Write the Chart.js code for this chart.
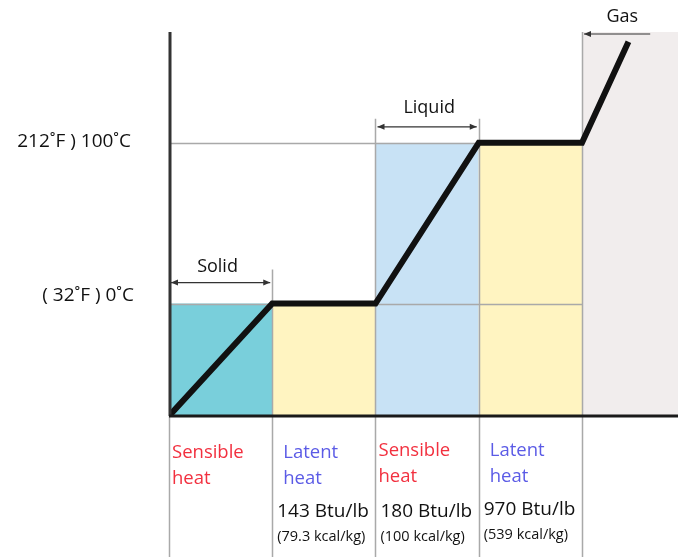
<!DOCTYPE html>
<html>
<head>
<meta charset="utf-8">
<script src="https://cdn.jsdelivr.net/npm/chart.js@4.4.1/dist/chart.umd.min.js"></script>
<style>
  html, body { margin: 0; padding: 0; background: #fff; }
  #wrap { width: 678px; height: 557px; }
</style>
</head>
<body>
<div id="wrap"><canvas id="heatChart"></canvas></div>
<script>
// heat added (one unit per phase column) and temperature in °C
const heatSteps = [0, 1, 2, 3, 4, 4.45];
const temperatures = [-70, 0, 0, 100, 100, 163];

// phase columns: start, end, top temperature, colour
const columnStarts = [0, 1, 2, 3, 4];
const columnEnds = [1, 2, 3, 4, 4.93];
const columnTops = [0, 0, 100, 100, 169];
const columnColors = ['#79cfdb', '#fff4c1', '#c8e2f5', '#fff4c1', '#f1eded'];

const tempMarks = [0, 100];
const tempLabels = ['( 32˚F ) 0˚C', '212˚F ) 100˚C'];

const heatTypes = [['Sensible', 'heat'], ['Latent', 'heat'], ['Sensible', 'heat'], ['Latent', 'heat']];
const heatTypeColors = ['#f2303f', '#5b5be6', '#f2303f', '#5b5be6'];
const heatAmounts = ['', '143 Btu/lb', '180 Btu/lb', '970 Btu/lb'];
const heatMetric = ['', '(79.3 kcal/kg)', '(100 kcal/kg)', '(539 kcal/kg)'];

const FONT = '"Open Sans", "Noto Sans", sans-serif';

function arrowHead(ctx, x, y, dir) {
    ctx.beginPath();
    ctx.moveTo(x, y);
    ctx.lineTo(x - dir * 7, y - 3);
    ctx.lineTo(x - dir * 7, y + 3);
    ctx.closePath();
    ctx.fill();
}

// fondos de fase, rejilla y flechas
const phasePlugin = {
    id: 'phases',
    beforeDatasetsDraw(chart) {
        const { ctx, chartArea, scales: { x, y } } = chart;
        const bottom = chartArea.bottom;
        ctx.save();
        columnStarts.forEach((s, i) => {
            const x0 = x.getPixelForValue(s);
            const x1 = x.getPixelForValue(columnEnds[i]);
            const yt = y.getPixelForValue(columnTops[i]);
            ctx.fillStyle = columnColors[i];
            ctx.fillRect(x0, yt, x1 - x0, bottom - yt);
        });

        // horizontal temperature lines
        ctx.strokeStyle = '#a9a9a9';
        ctx.lineWidth = 1.5;
        tempMarks.forEach(t => {
            const py = Math.round(y.getPixelForValue(t)) + 0.5;
            ctx.beginPath();
            ctx.moveTo(x.getPixelForValue(0), py);
            ctx.lineTo(x.getPixelForValue(4), py);
            ctx.stroke();
        });

        // vertical column boundaries, continuing below the axis
        const tickTops = [y.getPixelForValue(0) - 34, y.getPixelForValue(100) - 24, y.getPixelForValue(100) - 24, chartArea.top];
        [1, 2, 3, 4].forEach((v, i) => {
            const px = Math.round(x.getPixelForValue(v)) + 0.5;
            ctx.beginPath();
            ctx.moveTo(px, tickTops[i]);
            ctx.lineTo(px, chart.height);
            ctx.stroke();
        });
        ctx.beginPath();
        ctx.moveTo(x.getPixelForValue(0) + 0.5, bottom);
        ctx.lineTo(x.getPixelForValue(0) + 0.5, chart.height);
        ctx.stroke();

        // phase arrows
        ctx.strokeStyle = '#333';
        ctx.fillStyle = '#333';
        ctx.lineWidth = 1.2;
        const arrows = [
            [0, 1, y.getPixelForValue(0) - 21, true],
            [2, 3, y.getPixelForValue(100) - 16, true],
            [4, 4.68, chartArea.top + 2, false]
        ];
        arrows.forEach(([a, b, py, both]) => {
            const xa = x.getPixelForValue(a) + 2, xb = x.getPixelForValue(b) - 2;
            ctx.beginPath();
            ctx.moveTo(xa, py);
            ctx.lineTo(xb, py);
            ctx.stroke();
            arrowHead(ctx, xa, py, -1);
            if (both) arrowHead(ctx, xb, py, 1);
        });
        ctx.restore();
    },
    afterDatasetsDraw(chart) {
        const { ctx, chartArea, scales: { x, y } } = chart;
        ctx.save();
        // axes
        ctx.strokeStyle = '#333';
        ctx.lineWidth = 3;
        ctx.beginPath();
        ctx.moveTo(chartArea.left + 1, chartArea.top);
        ctx.lineTo(chartArea.left + 1, chartArea.bottom);
        ctx.stroke();
        ctx.strokeStyle = '#1a1a1a';
        ctx.beginPath();
        ctx.moveTo(chartArea.left, chartArea.bottom);
        ctx.lineTo(chartArea.right, chartArea.bottom);
        ctx.stroke();

        // temperature labels
        ctx.fillStyle = '#111';
        ctx.font = '19px ' + FONT;
        ctx.textAlign = 'right';
        ctx.textBaseline = 'middle';
        ctx.fillText(tempLabels[0], 134, y.getPixelForValue(0) - 8);
        ctx.fillText(tempLabels[1], 131, y.getPixelForValue(100) - 1);

        // phase names
        ctx.textAlign = 'center';
        ctx.font = '18px ' + FONT;
        ctx.fillText('Solid', x.getPixelForValue(0.47), y.getPixelForValue(0) - 37);
        ctx.fillText('Liquid', x.getPixelForValue(2.52), y.getPixelForValue(100) - 35);
        ctx.fillText('Gas', x.getPixelForValue(4.39), 17);

        // heat labels under the axis
        ctx.textAlign = 'left';
        heatTypes.forEach((lines, i) => {
            const px = x.getPixelForValue(i) + (i % 2 ? 11 : 3);
            const dy = i < 2 ? 2 : 0;
            ctx.fillStyle = heatTypeColors[i];
            ctx.font = '18.5px ' + FONT;
            ctx.fillText(lines[0], px, 451 + dy);
            ctx.fillText(lines[1], px, 477 + dy);
            if (heatAmounts[i]) {
                const ax = x.getPixelForValue(i) + 5;
                ctx.fillStyle = '#111';
                ctx.font = '19px ' + FONT;
                ctx.fillText(heatAmounts[i], ax, 512 - (i === 3 ? 2 : 0));
                ctx.font = '14.5px ' + FONT;
                ctx.fillText(heatMetric[i], ax, 537 - (i === 3 ? 2 : 0));
            }
        });
        ctx.restore();
    }
};

new Chart(document.getElementById('heatChart'), {
    type: 'line',
    data: {
        datasets: [{
            data: heatSteps.map((h, i) => ({ x: h, y: temperatures[i] })),
            borderColor: '#111',
            borderWidth: 6,
            pointRadius: 0,
            tension: 0,
            borderJoinStyle: 'miter',
            fill: false
        }]
    },
    options: {
        responsive: true,
        maintainAspectRatio: false,
        animation: false,
        layout: { padding: { left: 169, top: 32, right: 0, bottom: 141 } },
        scales: {
            x: { type: 'linear', min: 0, max: 4.93, display: false },
            y: { type: 'linear', min: -70, max: 169, display: false }
        },
        plugins: { legend: { display: false }, tooltip: { enabled: false } }
    },
    plugins: [phasePlugin]
});
</script>
</body>
</html>
